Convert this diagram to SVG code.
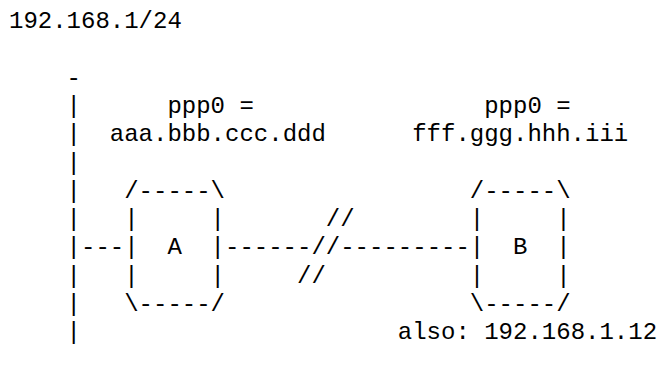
<svg xmlns="http://www.w3.org/2000/svg" width="658" height="366" viewBox="0 0 658 366">
<style>
text{font-family:"Liberation Mono","Courier New",monospace;font-size:24px;fill:#000;white-space:pre}
</style>
<rect width="658" height="366" fill="#fff"/>
<g id="subnet">
<text x="9" y="28">192.168.1/24</text>
<text x="66.6" y="84.6">-</text>
<text x="66.6" y="112.9">|</text>
<text x="66.6" y="141.2">|</text>
<text x="66.6" y="169.5">|</text>
<text x="66.6" y="197.8">|</text>
<text x="66.6" y="226.1">|</text>
<text x="66.6" y="254.4">|</text>
<text x="66.6" y="282.7">|</text>
<text x="66.6" y="311">|</text>
<text x="66.6" y="339.3">|</text>
</g>
<g id="hostA">
<text x="167.4" y="112.9" xml:space="preserve">ppp0 =</text>
<text x="109.8" y="141.2">aaa.bbb.ccc.ddd</text>
<text x="124.2" y="197.8">/-----\</text>
<text x="124.2" y="226.1" xml:space="preserve">|     |</text>
<text x="124.2" y="254.4" xml:space="preserve">|  A  |</text>
<text x="124.2" y="282.7" xml:space="preserve">|     |</text>
<text x="124.2" y="311">\-----/</text>
</g>
<g id="hostB">
<text x="484.2" y="112.9" xml:space="preserve">ppp0 =</text>
<text x="412.2" y="141.2">fff.ggg.hhh.iii</text>
<text x="469.8" y="197.8">/-----\</text>
<text x="469.8" y="226.1" xml:space="preserve">|     |</text>
<text x="469.8" y="254.4" xml:space="preserve">|  B  |</text>
<text x="469.8" y="282.7" xml:space="preserve">|     |</text>
<text x="469.8" y="311">\-----/</text>
<text x="397.8" y="339.3">also: 192.168.1.12</text>
</g>
<g id="connectors">
<text x="81" y="254.4">---</text>
<text x="225" y="254.4">------//---------</text>
<text x="325.8" y="226.1">//</text>
<text x="297" y="282.7">//</text>
</g>
</svg>
